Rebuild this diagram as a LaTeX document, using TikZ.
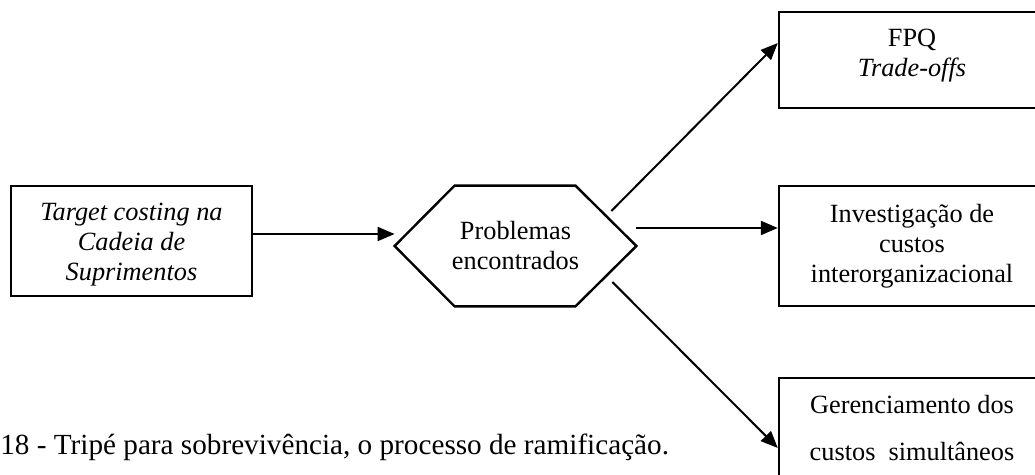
\documentclass[tikz,border=0pt]{standalone}
\usepackage{fontspec}
\setmainfont{Liberation Serif}
\usetikzlibrary{arrows.meta}
\tikzset{
  boxshape/.style={draw=black, line width=1.2pt, inner sep=0pt, rectangle},
  txt/.style={align=center, inner sep=0pt, font=\fontsize{13.15pt}{15pt}\selectfont},
  itxt/.style={align=center, inner sep=0pt, font=\fontsize{13.15pt}{15pt}\selectfont\itshape},
  conn/.style={line width=1pt, -{Triangle[length=8.5pt,width=7pt]}},
}
\begin{document}
\begin{tikzpicture}[x=0.5pt,y=-0.5pt]
\useasboundingbox (0,0) rectangle (1035,475);
\fill[white] (0,0) rectangle (1035,475);
\clip (0,0) rectangle (1035,475);
% left box
\node[boxshape, minimum width=120.5pt, minimum height=55pt] (tc) at (131.5,241) {};
\node[itxt] (tctext) at (131.5,245) {Target costing na\\Cadeia de\\Suprimentos};
% hexagon
\node[txt, minimum width=120.5pt, minimum height=60pt] (prob) at (515.5,246) {Problemas\\encontrados};
\draw[line width=1.2pt, line join=miter] (prob.west) -- ([xshift=30pt]prob.north west) -- ([xshift=-30.5pt]prob.north east) -- (prob.east) -- ([xshift=-30.5pt]prob.south east) -- ([xshift=30pt]prob.south west) -- cycle;
% right boxes (their right side lies beyond the picture's edge)
\node[boxshape, minimum width=150pt, minimum height=48pt] (fpq) at (929,60) {};
\node[txt] (fpqtext) at (912,56) {FPQ\\\textit{Trade-offs}};
\node[boxshape, minimum width=150pt, minimum height=60pt] (inv) at (929,246) {};
\node[txt] (invtext) at (912,246.5) {Investigação de\\custos\\interorganizacional};
\node[boxshape, minimum width=150pt, minimum height=60pt] (ger) at (929,438) {};
\node[txt, font=\fontsize{13.15pt}{23.5pt}\selectfont] (gertext) at (912,428) {Gerenciamento dos\\custos\ \ simultâneos};
% caption
\node[anchor=base west, inner sep=0pt, font=\fontsize{14.6pt}{17pt}\selectfont] (cap) at (0,455) {18 - Tripé para sobrevivência, o processo de ramificação.};
% connectors
\draw[conn] ([yshift=3.5pt]tc.east) -- ([yshift=6pt]prob.west);
\draw[conn] ([yshift=9pt]prob.east) -- ([yshift=9pt]inv.west);
\draw[conn] ([xshift=-12.5pt,yshift=17.5pt]prob.east) -- ([yshift=8.5pt]fpq.west);
\draw[conn] ([xshift=-12pt,yshift=-18pt]prob.east) -- ([yshift=-5pt]ger.west);
\end{tikzpicture}
\end{document}
